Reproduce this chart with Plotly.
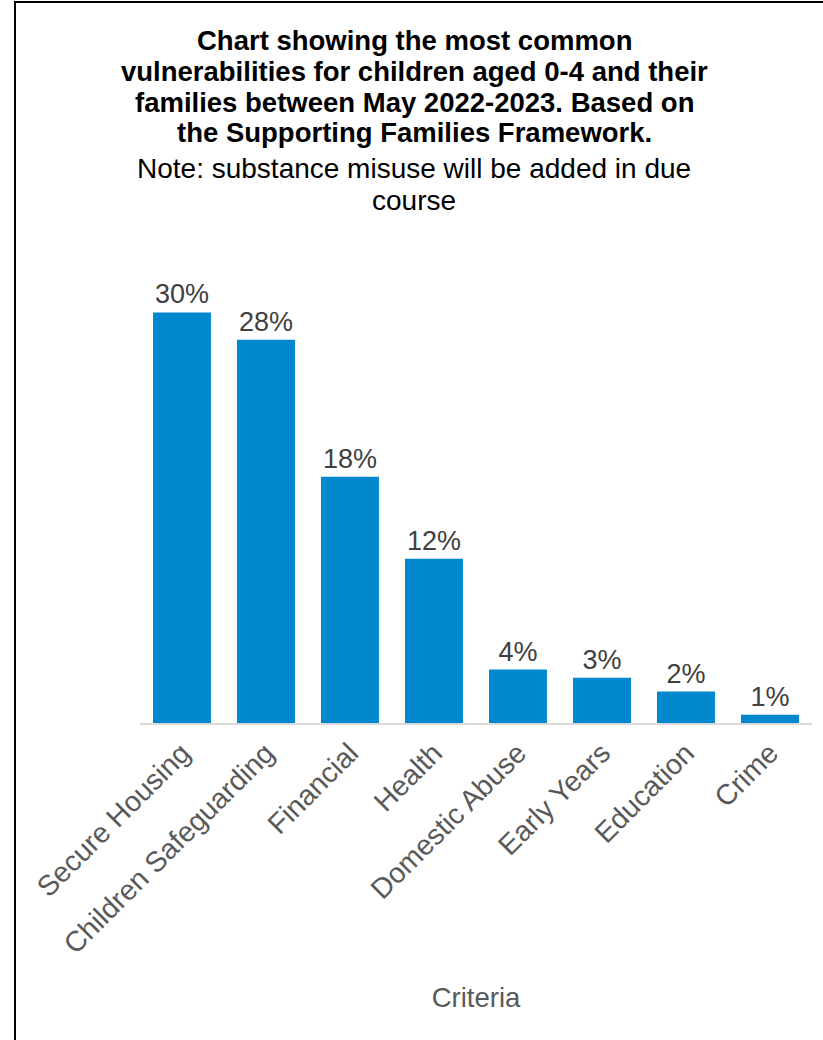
import plotly.graph_objects as go

categories = ["Secure Housing", "Children Safeguarding", "Financial", "Health",
              "Domestic Abuse", "Early Years", "Education", "Crime"]
shares = [0.300, 0.280, 0.180, 0.120, 0.039, 0.033, 0.023, 0.006]

title_lines = [
    "Chart showing the most common",
    "vulnerabilities for children aged 0-4 and their",
    "families between May 2022-2023. Based on",
    "the Supporting Families Framework.",
]
note_lines = ["Note: substance misuse will be added in due", "course"]
x_title = "Criteria"

W, H = 823, 1040
ML, MR, MT, MB = 140, 11, 285, 317
PW, PH = W - ML - MR, H - MT - MB

def px_x(px):
    return (px - ML) / PW

def px_y(py):
    return (H - MB - py) / PH

FONT = "Liberation Sans, Arial, sans-serif"

fig = go.Figure(go.Bar(
    x=categories, y=shares,
    marker=dict(color="#0288CE", line=dict(width=0)),
    texttemplate="%{y:.0%}", textposition="outside",
    textfont=dict(family=FONT, size=27, color="#404040"),
    cliponaxis=False,
))

annotations = []
title_y = [41, 71.5, 102, 132.5]
for line, py in zip(title_lines, title_y):
    annotations.append(dict(text="<b>" + line + "</b>", x=px_x(414), y=px_y(py),
                            xref="paper", yref="paper", showarrow=False,
                            xanchor="center", yanchor="middle",
                            font=dict(family=FONT, size=27.5, color="#000000")))
note_y = [169, 201]
for line, py in zip(note_lines, note_y):
    annotations.append(dict(text=line, x=px_x(414), y=px_y(py),
                            xref="paper", yref="paper", showarrow=False,
                            xanchor="center", yanchor="middle",
                            font=dict(family=FONT, size=28, color="#000000")))

fig.update_layout(
    width=W, height=H,
    margin=dict(l=ML, r=MR, t=MT, b=MB, autoexpand=False),
    paper_bgcolor="white", plot_bgcolor="white",
    showlegend=False,
    bargap=0.31,
    annotations=annotations,
    shapes=[dict(type="rect", xref="paper", yref="paper",
                 x0=px_x(15), x1=px_x(W + 20), y0=px_y(H + 20), y1=px_y(2),
                 line=dict(color="black", width=2), fillcolor="rgba(0,0,0,0)",
                 layer="above")],
    xaxis=dict(
        showline=True, linecolor="#D9D9D9", linewidth=2,
        ticks="", tickangle=-45,
        tickfont=dict(family=FONT, size=28.5, color="#595959"),
        title=dict(text=x_title, font=dict(family=FONT, size=27.5, color="#595959"),
                   standoff=29),
        automargin=False,
    ),
    yaxis=dict(range=[0, 0.32], visible=False, showgrid=False, zeroline=False),
)

fig.write_html("out.html", config={"displayModeBar": False},
               post_script="document.body.style.margin='0';document.body.style.padding='0';")
